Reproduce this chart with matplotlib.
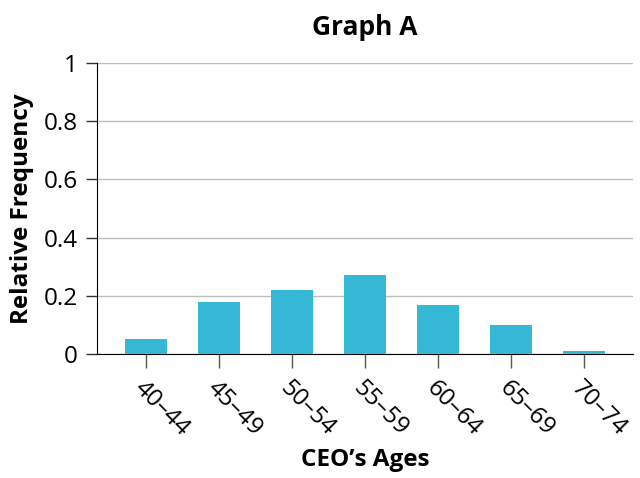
import matplotlib.pyplot as plt

plt.rcParams['font.family'] = ['Open Sans', 'DejaVu Sans']

age_groups = ['40–44', '45–49', '50–54', '55–59', '60–64', '65–69', '70–74']
rel_freq = [0.05, 0.18, 0.22, 0.27, 0.17, 0.10, 0.01]
y_ticks = [0, 0.2, 0.4, 0.6, 0.8, 1]
y_tick_labels = ['0', '0.2', '0.4', '0.6', '0.8', '1']

fig = plt.figure(figsize=(6.4, 4.78), dpi=100)
ax = fig.add_axes([97 / 640, 1 - 354 / 478, 536 / 640, 291 / 478])

x = range(len(age_groups))
ax.bar(x, rel_freq, width=0.58, color='#35b8d6', zorder=3)

ax.set_xlim(-0.67, 6.67)
ax.set_ylim(0, 1)
ax.set_yticks(y_ticks)
ax.set_yticklabels(y_tick_labels, fontsize=17.5)
ax.set_xticks(list(x))
ax.set_xticklabels(age_groups, fontsize=17.5, rotation=-45, ha='left', va='top',
                   rotation_mode='anchor')

ax.grid(axis='y', color='#bdbdbd', linewidth=1, zorder=0)
for side in ['top', 'right']:
    ax.spines[side].set_visible(False)
ax.spines['left'].set_color('black')
ax.spines['bottom'].set_color('black')
ax.tick_params(axis='y', length=8, width=1, color='#333333', pad=6)
ax.tick_params(axis='x', length=10, width=1, color='#555555', pad=6)

ax.set_title('Graph A', fontsize=19, fontweight='bold', pad=20)
ax.set_xlabel('CEO’s Ages', fontsize=17.5, fontweight='bold', labelpad=5)
ax.set_ylabel('Relative Frequency', fontsize=17.5, fontweight='bold', labelpad=7)

fig.savefig('out.png', dpi=100)
